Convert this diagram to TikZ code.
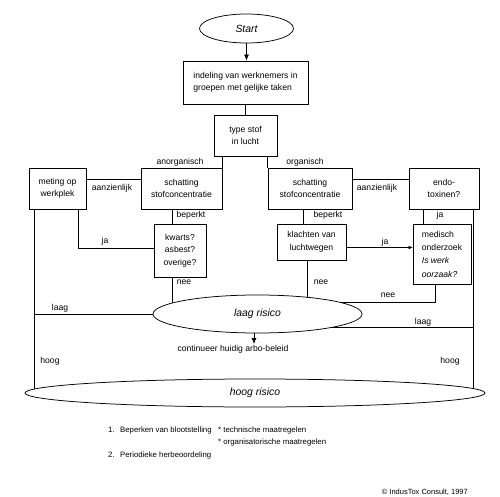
\documentclass[tikz,border=0pt]{standalone}
\usepackage{fontspec}
\setmainfont{Liberation Sans}
\usetikzlibrary{arrows.meta,backgrounds,shapes.geometric}
\begin{document}
\begin{tikzpicture}[x=1pt,y=-1pt,line width=0.75pt,
 box/.style={draw,rectangle,fill=white,inner sep=0pt,align=center,font=\fontsize{8.6}{12.5}\selectfont},
 oval/.style={draw,ellipse,fill=white,inner sep=0pt,font=\fontsize{10.4}{12}\selectfont\itshape},
 lbl/.style={inner sep=0pt,font=\fontsize{8.6}{10}\selectfont},
 note/.style={inner sep=0pt,anchor=west,font=\fontsize{7.8}{9}\selectfont},
 arr/.style={-{Latex[length=6pt,width=5pt]}}]
\useasboundingbox (0,0) rectangle (500,497);

% nodes
\node[oval,minimum width=94pt,minimum height=29pt] (start) at (246.5,28.5) {Start};
\node[box,minimum width=125pt,minimum height=43pt,align=left] (indeling) at (245.5,82.5) {indeling van werknemers in\\groepen met gelijke taken};
\node[box,minimum width=63pt,minimum height=41pt] (typestof) at (245.5,135.5) {type stof\\in lucht};
\node[box,minimum width=81pt,minimum height=41pt] (schatL) at (181.5,188.5) {schatting\\stofconcentratie};
\node[box,minimum width=57pt,minimum height=41pt] (meting) at (57.5,188.5) {meting op\\werkplek};
\node[box,minimum width=52pt,minimum height=53pt] (kwarts) at (180,250.5) {kwarts?\\asbest?\\overige?};
\node[box,minimum width=84pt,minimum height=41pt] (schatR) at (310,188.5) {schatting\\stofconcentratie};
\node[box,minimum width=70pt,minimum height=41pt] (endo) at (444,188.5) {endo-\\toxinen?};
\node[box,minimum width=69pt,minimum height=36pt] (klachten) at (311.5,242) {klachten van\\luchtwegen};
\node[box,minimum width=58pt,minimum height=60pt,align=left,font=\fontsize{8.6}{13.3}\selectfont] (medisch) at (442,254) {medisch\\onderzoek\\\textit{Is werk}\\\textit{oorzaak?}};
\node[oval,minimum width=209pt,minimum height=38pt] (laag) at (257.5,314) {laag risico};
\node[oval,minimum width=460pt,minimum height=28pt] (hoog) at (255,393) {hoog risico};
\node[lbl] (cont) at (233,349) {continueer huidig arbo-beleid};
\coordinate (conttop) at (254,344);
\coordinate (mL) at (34,0);
\coordinate (mR) at (473,0);

% connectors
\draw[arr] (start.south) -- (start.south |- indeling.north);
\draw[arr] (laag.south -| conttop) -- (conttop);
\begin{pgfonlayer}{background}
\draw (indeling) -- (typestof);
\draw (typestof.south -| schatL.east) -- (schatL.north east);
\draw (typestof.south -| schatR.west) -- (schatR.north west);
\draw ([yshift=9.5pt]schatL.west) -- ([yshift=9.5pt]meting.east);
\draw ([yshift=9.5pt]schatR.east) -- ([yshift=9.5pt]endo.west);
\draw ([xshift=-8pt]kwarts.north |- schatL.south) -- ([xshift=-8pt]kwarts.north);
\draw ([yshift=2.5pt]kwarts.west) -| ([xshift=20.5pt]meting.south);
\draw (meting.south -| mL) -- (hoog.center -| mL);
\draw (laag.center) -- (laag.center -| mL);
\draw ([xshift=-8pt]kwarts.south) -- ([xshift=-8pt]kwarts.south |- laag.center);
\draw ([xshift=-8.5pt]klachten.north |- schatR.south) -- ([xshift=-8.5pt]klachten.north);
\draw ([xshift=-4.5pt]klachten.south) -- ([xshift=-4.5pt]klachten.south |- laag.center);
\draw[-{Latex[length=4pt,width=3.5pt]}] ([yshift=-5.5pt]klachten.east) -- ([yshift=-5.5pt]klachten.east -| medisch.west);
\draw ([xshift=-21pt]endo.south) -- ([xshift=-21pt]endo.south |- medisch.north);
\draw (endo.south -| mR) -- (hoog.center -| mR);
\draw ([xshift=-7pt]medisch.south) |- ([yshift=12pt]laag.center);
\draw ([yshift=-13pt]laag.center) -- ([yshift=-13pt]laag.center -| mR);
\end{pgfonlayer}

% labels
\node[lbl] at (180,162) {anorganisch};
\node[lbl] at (305,162) {organisch};
\node[lbl] at (112,188) {aanzienlijk};
\node[lbl] at (377,188) {aanzienlijk};
\node[lbl] at (191,215) {beperkt};
\node[lbl] at (328,215) {beperkt};
\node[lbl] at (105,241) {ja};
\node[lbl] at (385,242) {ja};
\node[lbl] at (440,215) {ja};
\node[lbl] at (184,282) {nee};
\node[lbl] at (321,282) {nee};
\node[lbl] at (388,295) {nee};
\node[lbl] at (60,308) {laag};
\node[lbl] at (423,322) {laag};
\node[lbl] at (50,361) {hoog};
\node[lbl] at (450,361) {hoog};

% notes
\node[note] at (108,430) {1.};
\node[note] at (120,430) {Beperken van blootstelling};
\node[note] at (218,430) {*\ technische maatregelen};
\node[note] at (218,442) {*\ organisatorische maatregelen};
\node[note] at (108,455) {2.};
\node[note] at (120,455) {Periodieke herbeoordeling};
\node[note,anchor=east,font=\fontsize{7.5}{9}\selectfont] at (468,492) {© IndusTox Consult, 1997};
\end{tikzpicture}
\end{document}
